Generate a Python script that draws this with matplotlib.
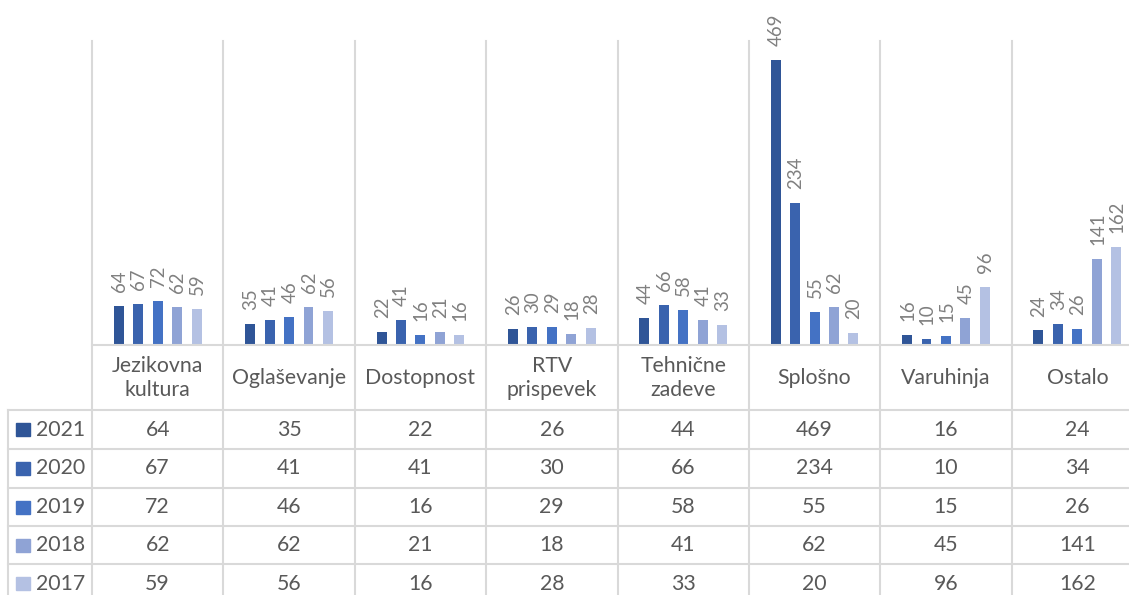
import matplotlib
matplotlib.use("Agg")
from matplotlib import pyplot as plt
from matplotlib import transforms
from matplotlib.lines import Line2D
from matplotlib.patches import Rectangle

categories = ['Jezikovna\nkultura', 'Oglaševanje', 'Dostopnost', 'RTV\nprispevek',
              'Tehnične\nzadeve', 'Splošno', 'Varuhinja', 'Ostalo']
years = ['2021', '2020', '2019', '2018', '2017']
v2021 = [64, 35, 22, 26, 44, 469, 16, 24]
v2020 = [67, 41, 41, 30, 66, 234, 10, 34]
v2019 = [72, 46, 16, 29, 58, 55, 15, 26]
v2018 = [62, 62, 21, 18, 41, 62, 45, 141]
v2017 = [59, 56, 16, 28, 33, 20, 96, 162]
series = [v2021, v2020, v2019, v2018, v2017]
colors = ['#2F5597', '#3A63AE', '#4472C4', '#8FA3D5', '#B4C1E3']

W, H = 1129, 595
grid_c = '#D9D9D9'
txt_c = '#595959'
lbl_c = '#808080'
font = 'Lato'
fs = 15.3

fig = plt.figure(figsize=(W / 100, H / 100), dpi=100)
# plot area runs a bit past the right edge, like the cropped original
ax = fig.add_axes([92 / W, (H - 345) / H, (1143 - 92) / W, (345 - 41) / H])
ax.set_xlim(-0.5, len(categories) - 0.5)
ax.set_ylim(0, 500)
for s in ax.spines.values():
    s.set_visible(False)
ax.set_xticks([])
ax.set_yticks([])

step = 0.148
width = 0.076
for i, vals in enumerate(series):
    xs = [c + (i - 2) * step for c in range(len(categories))]
    ax.bar(xs, vals, width=width, color=colors[i], zorder=3)
    for x, v in zip(xs, vals):
        ax.annotate(str(v), (x, v), xytext=(0.5, 10), textcoords='offset points',
                    rotation=90, ha='center', va='bottom', color=lbl_c,
                    fontsize=13.4, family=font, annotation_clip=False)

# category separators, from the plot top down through the table
bt = transforms.blended_transform_factory(ax.transData, fig.transFigure)
for k in range(len(categories) + 1):
    fig.add_artist(Line2D([k - 0.5, k - 0.5], [0, (H - 41) / H], transform=bt,
                          color=grid_c, lw=1.5))

# table horizontal lines (pixel rows from top)
row_lines = [410, 449, 488, 526, 564, 603]
fig.add_artist(Line2D([92 / W, 1], [(H - 345) / H] * 2, color=grid_c, lw=1.5))
for y in row_lines:
    fig.add_artist(Line2D([8 / W, 1], [(H - y) / H] * 2, color=grid_c, lw=1.5))
fig.add_artist(Line2D([8 / W, 8 / W], [0, (H - 410) / H], color=grid_c, lw=1.5))

# header row with category names
for k, name in enumerate(categories):
    fig.text(k, (H - 378) / H, name, transform=bt, ha='center', va='center',
             color=txt_c, fontsize=fs, family=font, linespacing=1.25)

# data rows
for i, (yr, vals) in enumerate(zip(years, series)):
    yc = (row_lines[i] + row_lines[i + 1]) / 2
    yf = (H - yc) / H
    fig.add_artist(Rectangle((16 / W, yf - 6.5 / H), 14 / W, 13 / H,
                             transform=fig.transFigure, color=colors[i]))
    fig.text(36 / W, yf, yr, ha='left', va='center', color=txt_c,
             fontsize=fs, family=font)
    for k, v in enumerate(vals):
        fig.text(k, yf, str(v), transform=bt, ha='center', va='center',
                 color=txt_c, fontsize=fs, family=font)

fig.savefig('out.png', dpi=100, facecolor='white')
